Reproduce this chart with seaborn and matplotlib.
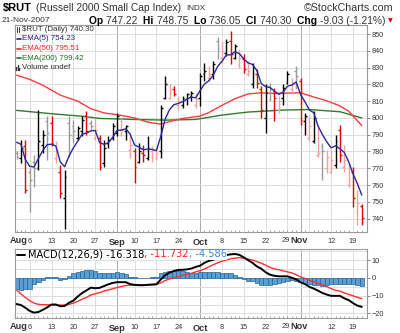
import numpy as np
import pandas as pd
import matplotlib
matplotlib.use("Agg")
import matplotlib.pyplot as plt
import matplotlib.transforms as mtransforms
import seaborn as sns

# ---------------- data ----------------
first_bar = -3          # Aug 1 2007 ; bar 0 = Aug 6 2007
opens = [779, 776, 783, 768, 774, 770, 784, 798, 797, 776,
         768, 752, 797, 795, 788, 792, 802, 797, 788, 788,
         773, 785, 788, 791, 790, 792, 781, 780, 774, 779,
         776, 780, 776, 780, 812, 812, 817, 808, 808, 811,
         813, 808, 812, 826, 824, 826, 846, 836, 839, 846,
         836, 832, 835, 826, 820, 826, 817, 800, 819, 816,
         805, 812, 821, 817, 828, 822, 798, 788, 786, 778,
         783, 770, 768, 772, 793, 771, 760, 768, 744, 747.22]
highs = [780.5, 787, 787, 770, 778, 805, 793, 801, 801, 786,
         772, 769, 801, 799, 795, 801, 804, 799, 800, 790,
         787, 789, 797, 803, 800, 796, 791, 782, 785, 784,
         789, 783, 782, 808, 825, 820, 819, 813, 813, 815,
         816, 815, 827, 833, 831, 834, 848, 846, 847, 852,
         844, 841, 838, 834, 833, 829, 819, 820, 821, 818,
         813, 820, 828, 824, 831, 824, 803, 801, 804, 795,
         785, 781, 781, 790, 796, 784, 774, 771, 757, 748.75]
lows = [775.5, 773, 755, 744, 759, 769, 779, 775, 783, 773,
        752, 734, 777, 785, 787, 789, 790, 793, 787, 769,
        771, 782, 787, 789, 789, 787, 776, 761, 773, 774,
        775, 774, 775, 776, 811, 811, 813, 805, 806, 808,
        810, 806, 807, 822, 822, 823, 835, 833, 837, 832,
        835, 830, 827, 825, 818, 818, 800, 791, 810, 798,
        803, 808, 820, 815, 817, 796, 790, 786, 785, 777,
        763, 767, 767, 770, 774, 768, 759, 747, 736, 736.05]
closes = [777, 782, 757, 763, 770, 786, 790, 791, 785, 781,
          755, 765, 790, 792, 794, 799, 792, 795, 793, 771,
          782, 787, 795, 801, 793, 795, 784, 771, 780, 778,
          782, 781, 779, 806, 820, 816, 814, 810, 812, 814,
          815, 811, 825, 828, 826, 832, 841, 840, 845, 838,
          843, 836, 829, 828, 830, 821, 805, 815, 817, 812,
          810, 818, 826, 821, 825, 799, 801, 795, 800, 779,
          780, 777, 775, 786, 778, 775, 763, 752, 749.33, 740.30]
prev_close_first = 776
ema5_seed = 789.7

ema50_bars = [-3, 0, 3, 7, 11, 14, 17, 21, 24, 27, 30, 32, 35, 39, 41, 44,
              47, 50, 53, 56, 62, 65, 68, 71, 73, 76]
ema50_vals = [825.5, 823, 819.5, 813.6, 810, 805.5, 803, 801.5, 800, 797.5,
              796.3, 797.8, 799.7, 801.1, 803.2, 807.5, 811.5, 814.3, 815,
              814.6, 815, 812.5, 810.2, 807.2, 804, 795.5]
ema200_bars = [-3, 5, 12, 16, 24, 31, 38, 44, 50, 58, 64, 71, 76]
ema200_vals = [804.5, 802.5, 801, 799.7, 799.1, 798.7, 799.1, 801.7, 803.5,
               804.7, 805, 803.7, 800]

macd_line = [-14.7, -15.3, -16.8, -18.6, -19.6, -19.2, -18.0, -16.6, -15.0, -15.0,
             -16.0, -15.8, -14.0, -12.8, -10.5, -8.5, -7.0, -5.5, -5.8, -5.6,
             -4.6, -3.6, -2.8, -2.4, -2.4, -2.4, -3.5, -3.9, -4.1, -4.1,
             -3.9, -3.7, -3.6, -0.9, 1.5, 3.0, 3.9, 4.5, 4.6, 4.8,
             5.3, 6.2, 6.9, 8.5, 9.6, 10.2, 11.5, 12.5, 12.9, 13.3,
             13.5, 13.0, 11.6, 10.0, 8.5, 6.5, 5.2, 3.2, 1.8, 1.2,
             0.9, 0.9, 0.9, 0.1, -0.8, -2.5, -3.5, -5.0, -6.0, -7.2,
             -8.5, -9.4, -10.1, -10.1, -10.1, -11.5, -12.5, -14.2, -15.6, -16.318]
macd_signal = [-6.8, -9.0, -11.0, -12.8, -14.2, -14.9, -15.1, -15.1, -15.2, -15.3,
               -15.3, -15.3, -14.9, -14.2, -13.2, -12.0, -11.0, -9.6, -8.9, -8.3,
               -7.4, -6.8, -6.1, -5.4, -4.8, -4.3, -4.1, -4.0, -3.9, -3.9,
               -3.9, -3.9, -3.6, -2.8, -1.5, -0.5, 0.1, 0.7, 1.4, 2.0,
               2.6, 3.4, 4.1, 5.0, 6.2, 7.4, 8.5, 9.4, 10.1, 10.8,
               11.2, 11.4, 11.1, 10.6, 10.1, 9.2, 8.3, 7.2, 6.0, 5.1,
               4.6, 4.0, 3.4, 2.8, 1.8, 0.6, -0.3, -1.4, -2.1, -3.0,
               -3.9, -4.9, -6.0, -7.0, -7.4, -8.5, -9.3, -10.1, -10.9, -11.732]
macd_hist = [-6.5, -7.0, -6.5, -6.0, -3.5, -2.5, -1.0, 0.3, 0.5, 0.3,
             -1.2, -0.5, 1.0, 2.5, 3.5, 4.0, 4.5, 4.5, 3.8, 3.0,
             3.0, 3.0, 3.0, 3.2, 3.0, 2.0, 0.5, 0.3, 0.2, 0.2,
             0.2, 0.3, 0.3, 2.5, 3.5, 4.0, 4.0, 4.0, 4.0, 3.5,
             3.0, 3.0, 3.2, 3.5, 3.5, 3.5, 3.5, 3.0, 2.8, 2.5,
             1.5, 0.5, -0.5, -1.5, -2.0, -3.0, -3.8, -4.0, -4.0, -3.5,
             -3.0, -2.5, -1.5, -1.0, -2.0, -2.5, -3.0, -3.5, -4.0, -4.0,
             -4.5, -4.0, -3.5, -3.5, -3.5, -3.5, -3.5, -3.5, -4.0, -4.586]

week_bars = [0, 5, 10, 15, 20, 24, 29, 34, 39, 44, 49, 54, 59, 62, 64, 69, 74]
week_labels = ["6", "13", "20", "27", "Sep", "10", "17", "24", "Oct", "8", "15",
               "22", "29", "Nov", "", "12", "19"]
month_labels = ["Aug", "Sep", "Oct", "Nov"]
month_bars = [20, 39, 62]
price_ticks = list(range(740, 851, 10))
macd_ticks = [10, 0, -10, -20]

title_sym = "$RUT"
title_name = "(Russell 2000 Small Cap Index)"
title_exch = "INDX"
date_text = "21-Nov-2007"
quote_parts = [("Op", "747.22"), ("Hi", "748.75"), ("Lo", "736.05"), ("Cl", "740.30"),
               ("Chg", "-9.03 (-1.21%)")]
legend_main = [("$RUT (Daily) 740.30", "#333333"), ("EMA(5) 754.23", "#202090"),
               ("EMA(50) 795.51", "#ff2020"), ("EMA(200) 799.42", "#1f6f1f"),
               ("Volume undef", "#333333")]
macd_legend = [("MACD(12,26,9) -16.318", "#000000"), (", -11.732", "#ff2020"),
               (", -4.586", "#3a8ac8")]

# ---------------- derived ----------------
n = len(closes)
x = np.arange(first_bar, first_bar + n)
df = pd.DataFrame({"x": x, "open": opens, "high": highs, "low": lows, "close": closes})
prev = np.r_[prev_close_first, df["close"].values[:-1]]
up = df["close"].values >= prev
solid = (df["close"].values >= df["open"].values) == up
cols = []
for u, s in zip(up, solid):
    if u:
        cols.append("#000000" if s else "#9a9a9a")
    else:
        cols.append("#e00000" if s else "#f4a0a0")
ema5 = []
e = ema5_seed
for c in closes:
    e = e + (c - e) * 2.0 / 6.0
    ema5.append(e)
df["ema5"] = ema5

# ---------------- figure ----------------
sns.set_theme(style="white")
FAM = ["Liberation Sans", "DejaVu Sans"]
plt.rcParams["font.family"] = FAM
W, H = 400, 333
fig = plt.figure(figsize=(W / 100, H / 100), dpi=100)
fig.patch.set_facecolor("white")
renderer = fig.canvas.get_renderer()


def fx(px):
    return px / W


def fy(py):
    return 1 - py / H


def seq_text(px, py, parts, size, family=FAM, zorder=7):
    for txt, c, w in parts:
        t = fig.text(fx(px), fy(py), txt, fontsize=size, color=c, fontweight=w,
                     va="center", ha="left", zorder=zorder, family=family)
        bb = t.get_window_extent(renderer=renderer)
        px = bb.x1
    return px


def fit_size(parts, width, family=FAM):
    t = fig.text(0, 0, "", fontsize=10)
    total = 0
    for txt, c, w in parts:
        t.set_text(txt)
        t.set_fontweight(w)
        t.set_family(family)
        total += t.get_window_extent(renderer=renderer).width
    t.remove()
    return 10.0 * width / total


L, R = 15, 367
TOP, BOT = 25, 232
MTOP, MBOT = 248.5, 318
axm = fig.add_axes([fx(L), fy(BOT), fx(R) - fx(L), fy(TOP) - fy(BOT)])
axd = fig.add_axes([fx(L), fy(MBOT), fx(R) - fx(L), fy(MTOP) - fy(MBOT)])
xlim = (-3.36, 77.2)
pxb = (R - L) / (xlim[1] - xlim[0])


def bar_of_px(px):
    return xlim[0] + (px - L) / pxb


DAY_FS = 5.3
MON_FS = 6.6
for ax in (axm, axd):
    ax.set_facecolor("white")
    ax.set_xlim(*xlim)
    for sp in ax.spines.values():
        sp.set_color("#9a9a9a")
        sp.set_linewidth(0.8)
    for b in week_bars:
        ax.axvline(b, color="#a8a8a8" if b in month_bars else "#dddddd", lw=0.7, zorder=0)
    ax.yaxis.tick_right()
    ax.tick_params(axis="y", which="both", length=2, width=0.6, color="#777777",
                   labelsize=5.3, labelcolor="#333333", pad=1.2, right=True, left=False)
    ticks_b = [b for b, l in zip(week_bars, week_labels) if l not in ("29", "Nov")]
    labs_b = [l for l in week_labels if l not in ("29", "Nov")]
    ax.set_xticks(ticks_b)
    ax.set_xticklabels(labs_b)
    ax.tick_params(axis="x", length=0, labelsize=DAY_FS, labelcolor="#333333", pad=4.5)
    for lab in ax.get_xticklabels():
        if lab.get_text() in month_labels:
            lab.set_fontweight("bold")
            lab.set_fontsize(MON_FS)
    ax.set_xticks(x, minor=True)
    ax.tick_params(axis="x", which="minor", length=1.5, width=0.5, color="#888888",
                   direction="in", bottom=True)

# manual labels: "Aug" before "6", and the "29Nov" pair
for ax, yb in ((axm, BOT), (axd, MBOT)):
    ylab = fy(yb + 8.3)
    tr = mtransforms.blended_transform_factory(ax.transData, fig.transFigure)
    ax.text(bar_of_px(27.8), ylab, "Aug", transform=tr, ha="right", va="center",
            fontsize=MON_FS, fontweight="bold", color="#333333")
    ax.text(bar_of_px(289.6), ylab, "29", transform=tr, ha="right", va="center",
            fontsize=DAY_FS, color="#333333")
    ax.text(bar_of_px(290.8), ylab, "Nov", transform=tr, ha="left", va="center",
            fontsize=MON_FS, fontweight="bold", color="#333333")

# main panel
axm.set_ylim(732, 855.4)
axm.set_yticks(price_ticks)
for t in price_ticks:
    axm.axhline(t, color="#dddddd", lw=0.7, zorder=0)
sns.lineplot(x=ema200_bars, y=ema200_vals, ax=axm, color="#2e7d2e", lw=1.0, zorder=2)
sns.lineplot(x=ema50_bars, y=ema50_vals, ax=axm, color="#ff3b3b", lw=1.0, zorder=2)
tick = 0.42
axm.vlines(df["x"], df["low"], df["high"], colors=cols, lw=1.0, zorder=3)
axm.hlines(df["open"], df["x"] - tick, df["x"], colors=cols, lw=1.0, zorder=3)
axm.hlines(df["close"], df["x"], df["x"] + tick, colors=cols, lw=1.0, zorder=3)
sns.lineplot(data=df, x="x", y="ema5", ax=axm, color="#2a2aa0", lw=1.0, zorder=4)
axm.set_xlabel("")
axm.set_ylabel("")

# legend in main panel
lg_size = fit_size([(legend_main[3][0], "k", "normal")], 62)
ys = [29.2, 39, 48.8, 58.3, 67.5]
for (txt, c), yy in zip(legend_main, ys):
    fig.text(fx(21.7), fy(yy), txt, fontsize=lg_size, color=c, va="center", ha="left")
for (txt, c), yy in zip(legend_main[1:4], ys[1:4]):
    fig.add_artist(plt.Line2D([fx(16.8), fx(20.8)], [fy(yy), fy(yy)], color=c, lw=1.2))
# ohlc icon and volume icon
fig.add_artist(plt.Line2D([fx(16.5), fx(16.5)], [fy(26.5), fy(31.5)], color="#333333", lw=0.7))
fig.add_artist(plt.Line2D([fx(19), fx(19)], [fy(27), fy(32)], color="#333333", lw=0.7))
for xx, h in ((16.2, 3.5), (17.6, 5), (19.0, 2.5)):
    fig.add_artist(plt.Line2D([fx(xx), fx(xx)], [fy(70), fy(70 - h)], color="#333333", lw=1.0))

# MACD panel
axd.set_ylim(-22.6, 16.6)
axd.set_yticks(macd_ticks)
for t in [15, 10, 5, 0, -5, -10, -15, -20]:
    axd.axhline(t, color="#dddddd", lw=0.7, zorder=0)
axd.bar(x, macd_hist, width=1.0, color="#5a9fd4", edgecolor="#24649c", lw=0.5, zorder=2)
sns.lineplot(x=x, y=macd_signal, ax=axd, color="#ff3030", lw=1.0, zorder=3)
sns.lineplot(x=x, y=macd_line, ax=axd, color="#000000", lw=1.4, zorder=4)
axd.set_xlabel("")
axd.set_ylabel("")

# MACD legend with white background
fig.add_artist(plt.Rectangle((fx(16), fy(259.5)), fx(227) - fx(16), fy(249.5) - fy(259.5),
                             facecolor="white", edgecolor="none", zorder=5))
fig.add_artist(plt.Line2D([fx(16.7), fx(25)], [fy(254.5), fy(254.5)], color="black",
                          lw=1.4, zorder=6))
mparts = [(t, c, "normal") for t, c in macd_legend]
DJ = ["DejaVu Sans"]
seq_text(28, 254.5, mparts, fit_size(mparts, 198, DJ), family=DJ)

# header
seq_text(2.5, 7.5, [(title_sym, "#000000", "bold")],
         fit_size([(title_sym, "k", "bold")], 29))
seq_text(36.5, 8, [(title_name, "#333333", "normal")],
         fit_size([(title_name, "k", "normal")], 144))
seq_text(186.7, 8.3, [(title_exch, "#333333", "normal")],
         fit_size([(title_exch, "k", "normal")], 19))
sc_parts = [("\u00a9StockCharts.com", "#333333", "normal")]
seq_text(304, 8, sc_parts, fit_size(sc_parts, 89))
seq_text(1.7, 20.5, [(date_text, "#333333", "normal")],
         fit_size([(date_text, "k", "normal")], 48.3))
parts = []
for k, (lab, val) in enumerate(quote_parts):
    parts.append((lab + " ", "#000000", "bold"))
    parts.append((val + ("  " if k < len(quote_parts) - 1 else " "), "#333333", "normal"))
q_size = fit_size(parts, 298)
endx = seq_text(89.3, 20.5, parts, q_size)
fig.text(fx(endx + 0.3), fy(20.5), "\u25bc", fontsize=4.5, color="#e00000",
         va="center", ha="left", family=["DejaVu Sans"])

fig.savefig("out.png", dpi=100, facecolor="white")
